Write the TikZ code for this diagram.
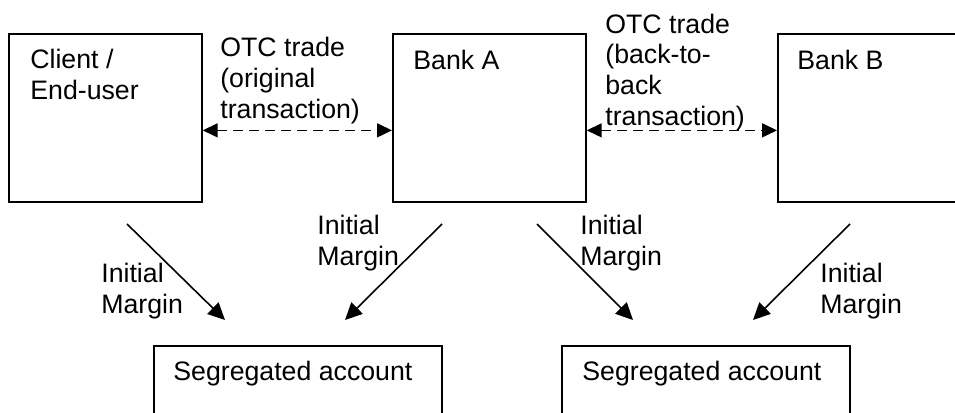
\documentclass[tikz,border=0pt]{standalone}
\usepackage{fontspec}
\setmainfont{Liberation Sans}
\usetikzlibrary{arrows.meta}
\begin{document}
\begin{tikzpicture}[x=0.02cm,y=-0.02cm,line join=miter]
  \tikzstyle{party}=[draw,line width=1pt,minimum width=3.86cm,minimum height=3.36cm,anchor=north west,inner sep=0pt]
  \tikzstyle{account}=[draw,line width=1pt,minimum width=5.76cm,minimum height=2.4cm,anchor=north west,inner sep=0pt]
  \tikzstyle{txt}=[anchor=base west,align=left,inner sep=0pt,font=\fontsize{15.2}{17.4}\selectfont]
  \tikzstyle{margin}=[-{Triangle[length=0.34cm,width=0.32cm]},line width=0.9pt]
  \tikzstyle{trade}=[{Triangle[length=0.3cm,width=0.28cm]}-{Triangle[length=0.3cm,width=0.28cm]},line width=0.9pt,dash pattern=on 0.2cm off 0.12cm]
  \useasboundingbox (0,0) rectangle (955,412);
  \clip (0,0) rectangle (955,412);
  % parties
  \node[party] (client) at (8,33) {};
  \node[party] (bankA) at (392,33) {};
  \node[party] (bankB) at (777,33) {};
  \node[txt] (client_t) at (30,99) {Client /\\End-user};
  \node[txt] (bankA_t) at (413,70) {Bank A};
  \node[txt] (bankB_t) at (797,70) {Bank B};
  % accounts
  \node[account] (seg_1) at (153,345) {};
  \node[account] (seg_2) at (561,345) {};
  \node[txt] (seg_1t) at (173,380) {Segregated account};
  \node[txt] (seg_2t) at (582,380) {Segregated account};
  % trades (base anchor sits on the last line)
  \node[txt] (otc_1) at (220,118) {OTC trade\\(original\\transaction)};
  \node[txt] (otc_2) at (605,125) {OTC trade\\(back-to-\\back\\transaction)};
  \draw[trade] ([yshift=-0.25cm]client.east) -- ([yshift=-0.25cm]bankA.west);
  \draw[trade] ([yshift=-0.25cm]bankA.east) -- ([yshift=-0.25cm]bankB.west);
  % initial margin
  \coordinate (m1a) at (127,224); \coordinate (m1b) at (225,320);
  \coordinate (m2a) at (442,224); \coordinate (m2b) at (345,320);
  \coordinate (m3a) at (537,224); \coordinate (m3b) at (633,320);
  \coordinate (m4a) at (850,224); \coordinate (m4b) at (753,320);
  \draw[margin] (m1a) -- (m1b);
  \draw[margin] (m2a) -- (m2b);
  \draw[margin] (m3a) -- (m3b);
  \draw[margin] (m4a) -- (m4b);
  \node[txt] (im_1) at (101,313) {Initial\\Margin};
  \node[txt] (im_2) at (317,265) {Initial\\Margin};
  \node[txt] (im_3) at (580,265) {Initial\\Margin};
  \node[txt] (im_4) at (820,313) {Initial\\Margin};
\end{tikzpicture}
\end{document}
